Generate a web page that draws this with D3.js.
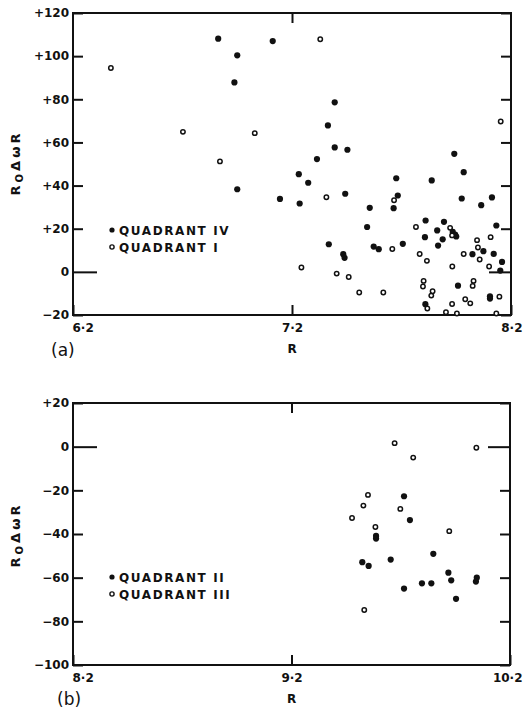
<!DOCTYPE html>
<html lang="en">
<head>
    <meta charset="UTF-8">
    <title>R0 Delta omega R vs R</title>
    <script src="https://cdn.jsdelivr.net/npm/d3@7/dist/d3.min.js"></script>
    <style>
        body { margin: 0; background: #fff; }
        text { font-family: "DejaVu Sans", sans-serif; fill: #111; }
    </style>
</head>
<body>
<script>

    // panel (a): quadrant IV (filled) and quadrant I (open), [R, R0*dw*R]
    var quadIV = [
        [6.863,108.1],[6.950,100.4],[6.937,87.8],[6.950,38.3],[7.112,107.0],[7.395,78.6],
        [7.364,67.9],[7.395,57.7],[7.453,56.6],[7.314,52.3],[7.231,45.3],[7.274,41.3],
        [7.145,33.8],[7.235,31.7],[7.443,36.2],[7.941,54.7],[7.984,46.2],[7.676,43.4],
        [7.838,42.4],[7.975,34.0],[8.113,34.5],[8.064,30.9],[7.683,35.4],[7.664,29.5],
        [7.555,29.7],[7.543,20.8],[7.368,12.8],[7.434,8.2],[7.440,6.5],[7.573,11.7],
        [7.596,10.5],[7.706,13.0],[7.810,23.8],[7.894,23.2],[7.863,19.2],[7.934,18.5],
        [7.945,17.3],[7.950,16.4],[7.807,16.1],[7.888,15.1],[7.867,12.2],[8.133,21.5],
        [8.074,9.6],[8.024,8.2],[8.121,8.3],[8.159,4.6],[8.151,0.6],[7.958,-6.4],
        [8.104,-11.3],[8.104,-12.4],[7.809,-15.0]
    ];
    var quadI = [
        [6.373,94.5],[6.702,64.9],[7.030,64.3],[6.871,51.2],[7.329,107.8],[8.153,69.7],
        [7.357,34.6],[7.666,33.2],[7.658,10.6],[7.243,2.0],[7.404,-0.8],[7.459,-2.4],
        [7.507,-9.6],[7.617,-9.6],[7.766,20.8],[7.922,20.4],[7.931,16.9],[8.045,14.7],
        [8.107,16.1],[8.049,11.3],[7.984,8.3],[8.057,5.7],[7.783,8.3],[7.816,5.1],
        [7.932,2.5],[8.100,2.5],[7.801,-4.2],[7.798,-6.8],[8.029,-4.2],[8.025,-6.5],
        [7.842,-9.0],[7.836,-11.0],[8.147,-11.5],[7.991,-12.7],[8.014,-14.6],[7.818,-17.0],
        [7.931,-14.9],[7.903,-18.7],[7.953,-19.3],[8.133,-19.3]
    ];

    // panel (b): quadrant II (filled) and quadrant III (open)
    var quadII = [
        [9.715,-22.7],[9.742,-33.6],[9.587,-40.9],[9.587,-42.1],[9.849,-49.1],[9.654,-51.7],
        [9.524,-52.9],[9.553,-54.6],[9.918,-57.7],[9.931,-61.2],[10.048,-60.0],[10.044,-61.8],
        [9.797,-62.6],[9.840,-62.6],[9.715,-65.0],[9.953,-69.7]
    ];
    var quadIII = [
        [9.672,1.6],[9.757,-5.0],[10.046,-0.5],[9.550,-22.1],[9.529,-27.0],[9.477,-32.7],
        [9.698,-28.5],[9.584,-36.8],[9.922,-38.7],[9.533,-74.8]
    ];

    // tick values
    var xTicksA = [6.2, 7.2, 8.2];
    var yTicksA = [-20, 0, 20, 40, 60, 80, 100, 120];
    var xTicksB = [8.2, 9.2, 10.2];
    var yTicksB = [-100, -80, -60, -40, -20, 0, 20];

    var legendA = ["QUADRANT IV", "QUADRANT I"];
    var legendB = ["QUADRANT II", "QUADRANT III"];

    var svg = d3.select("body")
        .append("svg")
        .attr("width", 523)
        .attr("height", 710);

    function fmtY(v) {
        if (v > 0) return "+" + v;
        if (v < 0) return "\u2212" + (-v);
        return "0";
    }
    function fmtX(v) {
        return String(v).replace(".", "\u00b7");
    }

    function drawPanel(p) {
        var x = d3.scaleLinear().domain(p.xDomain).range([p.left, p.right]);
        var y = d3.scaleLinear().domain(p.yDomain).range([p.bottom, p.top]);
        var g = svg.append("g");

        // left axis, ticks point inward, the zero tick is longer
        var left = g.append("g")
            .attr("transform", "translate(" + p.left + ",0)")
            .call(d3.axisLeft(y).tickValues(p.yTicks).tickSizeInner(-10).tickSizeOuter(0)
                .tickPadding(4).tickFormat(fmtY));
        left.select(".domain").remove();
        left.selectAll(".tick line").attr("x2", function (d) { return d === 0 ? 24 : 10; });

        var right = g.append("g")
            .attr("transform", "translate(" + p.right + ",0)")
            .call(d3.axisRight(y).tickValues(p.yTicks).tickSizeInner(-10).tickSizeOuter(0)
                .tickFormat(""));
        right.select(".domain").remove();
        right.selectAll(".tick line").attr("x2", function (d) { return d === 0 ? -22 : -10; });

        var bottom = g.append("g")
            .attr("transform", "translate(0," + p.bottom + ")")
            .call(d3.axisBottom(x).tickValues(p.xTicks).tickSizeInner(-10).tickSizeOuter(0)
                .tickPadding(8).tickFormat(fmtX));
        bottom.select(".domain").remove();
        // first label starts at the axis, last one is kept inside the page
        bottom.selectAll(".tick text")
            .attr("text-anchor", function (d, i) { return i === 0 ? "start" : (i === 2 ? "end" : "middle"); })
            .attr("x", function (d, i) {
                if (i === 0) return -1;
                if (i === 2) return 522 - x(d);
                return 0;
            });

        var top = g.append("g")
            .attr("transform", "translate(0," + p.top + ")")
            .call(d3.axisTop(x).tickValues([p.xTicks[1]]).tickSizeInner(-10).tickSizeOuter(0)
                .tickFormat(""));
        top.select(".domain").remove();

        g.selectAll(".tick line").attr("stroke", "#111").attr("stroke-width", 2);
        g.selectAll(".tick text")
            .attr("fill", "#111")
            .style("font-size", "12px")
            .style("font-weight", "bold");

        // frame
        g.append("rect")
            .attr("x", p.left)
            .attr("y", p.top)
            .attr("width", p.right - p.left)
            .attr("height", p.bottom - p.top)
            .attr("fill", "none")
            .attr("stroke", "#111")
            .attr("stroke-width", 2);

        // points
        g.selectAll(".filled")
            .data(p.filled)
            .enter()
            .append("circle")
            .attr("cx", function (d) { return x(d[0]); })
            .attr("cy", function (d) { return y(d[1]); })
            .attr("r", 3.1)
            .attr("fill", "#111");

        g.selectAll(".open")
            .data(p.open)
            .enter()
            .append("circle")
            .attr("cx", function (d) { return x(d[0]); })
            .attr("cy", function (d) { return y(d[1]); })
            .attr("r", 2.2)
            .attr("fill", "#fff")
            .attr("stroke", "#111")
            .attr("stroke-width", 1.5);

        // legend
        var lg = g.append("g").attr("transform", "translate(112," + p.legendY + ")");
        lg.append("circle").attr("cx", 0).attr("cy", 0).attr("r", 2.6).attr("fill", "#111");
        lg.append("circle").attr("cx", 0).attr("cy", 17).attr("r", 2.1)
            .attr("fill", "#fff").attr("stroke", "#111").attr("stroke-width", 1.4);
        lg.selectAll("text")
            .data(p.legend)
            .enter()
            .append("text")
            .attr("x", 7)
            .attr("y", function (d, i) { return i * 17 + 4.5; })
            .style("font-size", "12px")
            .style("font-weight", "bold")
            .style("letter-spacing", "1.6px")
            .text(function (d) { return d; });

        // axis titles
        g.append("text")
            .attr("x", x(p.xTicks[1]))
            .attr("y", p.bottom + 38)
            .attr("text-anchor", "middle")
            .style("font-size", "12px")
            .style("font-weight", "bold")
            .text("R");

        var yl = g.append("text")
            .attr("transform", "translate(20," + p.yLabelY + ") rotate(-90)")
            .attr("text-anchor", "middle")
            .style("font-size", "13px")
            .style("font-weight", "bold")
            .style("letter-spacing", "3px");
        yl.append("tspan").text("R");
        yl.append("tspan").attr("baseline-shift", "-25%").style("font-size", "10px").text("O");
        yl.append("tspan").text("\u0394\u03c9R");

        g.append("text")
            .attr("x", p.tagX)
            .attr("y", p.tagY)
            .style("font-size", "17px")
            .text(p.tag);
    }

    drawPanel({
        xDomain: [6.2, 8.2], yDomain: [-20, 120],
        left: 73, right: 511, top: 13, bottom: 315,
        xTicks: xTicksA, yTicks: yTicksA,
        filled: quadIV, open: quadI, legend: legendA,
        legendY: 230, yLabelY: 163, tag: "(a)", tagX: 51, tagY: 356
    });

    drawPanel({
        xDomain: [8.2, 10.2], yDomain: [-100, 20],
        left: 73, right: 510, top: 403, bottom: 665,
        xTicks: xTicksB, yTicks: yTicksB,
        filled: quadII, open: quadIII, legend: legendB,
        legendY: 577, yLabelY: 535, tag: "(b)", tagX: 57, tagY: 705
    });

</script>
</body>
</html>
